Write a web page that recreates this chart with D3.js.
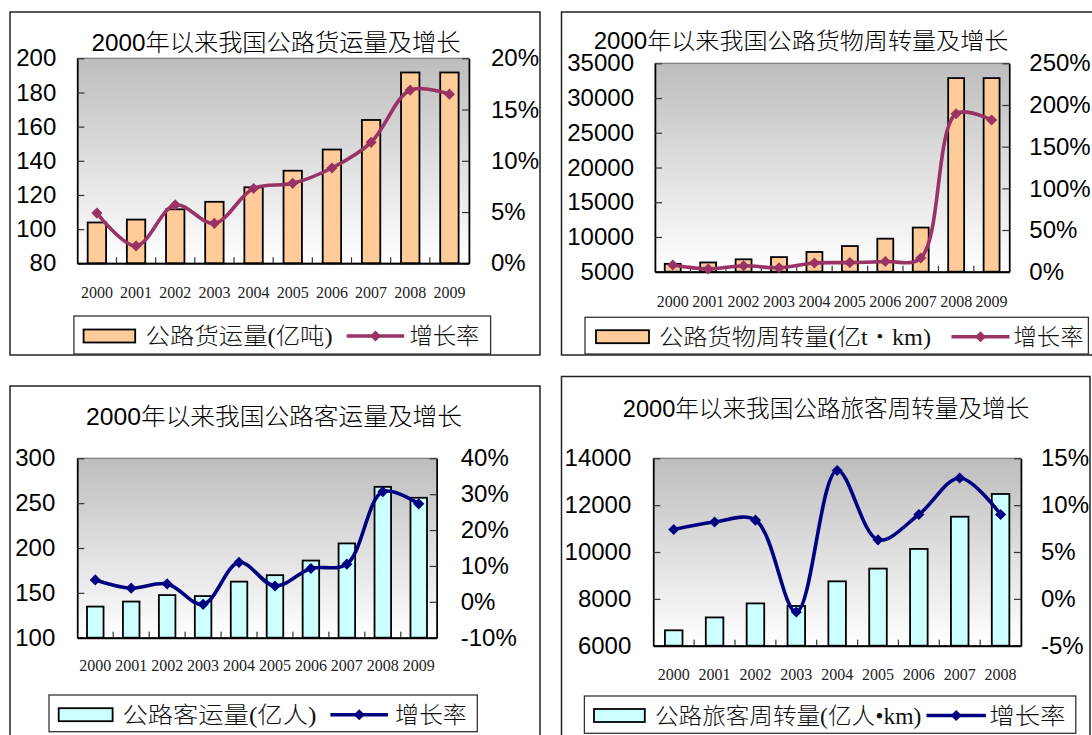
<!DOCTYPE html>
<html>
<head>
<meta charset="utf-8">
<script src="https://cdn.jsdelivr.net/npm/d3@7"></script>
<style>
  html, body { margin: 0; padding: 0; background: #ffffff; }
  svg { display: block; }
</style>
</head>
<body>
<svg id="chart" width="1092" height="735"></svg>
<script>
// ---- data ----
const years10 = ["2000", "2001", "2002", "2003", "2004", "2005", "2006", "2007", "2008", "2009"];
const years9 = ["2000", "2001", "2002", "2003", "2004", "2005", "2006", "2007", "2008"];

// 公路货运量 (亿吨) and growth (%)
const freightVolume = [103.9, 105.6, 111.6, 116.0, 124.5, 134.2, 146.6, 163.9, 191.7, 191.7];
const freightVolumeGrowth = [4.9, 1.7, 5.7, 3.9, 7.3, 7.8, 9.3, 11.8, 16.9, 16.5];

// 公路货物周转量 (亿t·km) and growth (%)
const freightTurnover = [6129, 6330, 6783, 7100, 7841, 8693, 9754, 11355, 32868, 32868];
const freightTurnoverGrowth = [8.0, 3.3, 7.2, 4.7, 10.4, 10.9, 12.2, 16.4, 189.5, 182.0];

// 公路客运量 (亿人) and growth (%)
const passengerVolume = [134.7, 140.3, 147.5, 146.4, 162.5, 169.7, 186.0, 205.1, 268.2, 256.0];
const passengerVolumeGrowth = [6.1, 3.8, 5.0, -0.7, 11.0, 4.4, 9.3, 10.5, 30.7, 27.3];

// 公路旅客周转量 (亿人·km) and growth (%)
const passengerTurnover = [6657, 7207, 7806, 7696, 8748, 9292, 10131, 11506, 12476];
const passengerTurnoverGrowth = [7.4, 8.2, 8.4, -1.4, 13.7, 6.3, 9.0, 12.9, 9.0];

// axis tick values
const ticksFreightVolume = [80, 100, 120, 140, 160, 180, 200];
const ticksFreightVolumeGrowth = [0, 5, 10, 15, 20];
const ticksFreightTurnover = [5000, 10000, 15000, 20000, 25000, 30000, 35000];
const ticksFreightTurnoverGrowth = [0, 50, 100, 150, 200, 250];
const ticksPassengerVolume = [100, 150, 200, 250, 300];
const ticksPassengerVolumeGrowth = [-10, 0, 10, 20, 30, 40];
const ticksPassengerTurnover = [6000, 8000, 10000, 12000, 14000];
const ticksPassengerTurnoverGrowth = [-5, 0, 5, 10, 15];

// texts
const titles = [
  "2000年以来我国公路货运量及增长",
  "2000年以来我国公路货物周转量及增长",
  "2000年以来我国公路客运量及增长",
  "2000年以来我国公路旅客周转量及增长"
];
const barLegendLabels = ["公路货运量(亿吨)", "公路货物周转量(亿t・km)", "公路客运量(亿人)", "公路旅客周转量(亿人•km)"];
const lineLegendLabel = "增长率";

// ---- colours ----
const ORANGE = "#FFCC99", CYAN = "#CCFFFF", PLUM = "#993366", NAVY = "#000080";

// ---- layout of the four panels ----
const panels = [
  {
    frame: [10, 12, 540, 355],
    title: { text: titles[0], cx: 276, cy: 42.7, w: 369, fs: 24 },
    plot: [77.3, 58.3, 469, 263.3],
    cats: years10, bars: freightVolume, growth: freightVolumeGrowth,
    leftTicks: ticksFreightVolume, rightTicks: ticksFreightVolumeGrowth,
    barFrac: 0.47, barColor: ORANGE, lineColor: PLUM,
    xLabelY: 293, leftGap: 21, rightGap: 22,
    legend: { box: [73.9, 316, 490.6, 354], cy: 336, sw: [83.6, 135.2], t1: [145.6, 187],
              line: [346.7, 404.2], t2: [409.4, 70], label: barLegendLabels[0] }
  },
  {
    frame: [561.5, 12, 1100, 355],
    title: { text: titles[1], cx: 801, cy: 40.5, w: 414.6, fs: 23 },
    plot: [655, 63.3, 1009.3, 271.7],
    cats: years10, bars: freightTurnover, growth: freightTurnoverGrowth,
    leftTicks: ticksFreightTurnover, rightTicks: ticksFreightTurnoverGrowth,
    barFrac: 0.45, barColor: ORANGE, lineColor: PLUM,
    xLabelY: 301.5, leftGap: 21, rightGap: 20,
    legend: { box: [585, 317.3, 1088.4, 354], cy: 336.7, sw: [596, 649], t1: [659, 272],
              line: [951.5, 1009.5], t2: [1013.5, 70], label: barLegendLabels[1] }
  },
  {
    frame: [10, 386, 540, 760],
    title: { text: titles[2], cx: 274, cy: 416.7, w: 376, fs: 24 },
    plot: [77.3, 458.3, 436.7, 637.7],
    cats: years10, bars: passengerVolume, growth: passengerVolumeGrowth,
    leftTicks: ticksPassengerVolume, rightTicks: ticksPassengerVolumeGrowth,
    barFrac: 0.46, barColor: CYAN, lineColor: NAVY,
    xLabelY: 666, leftGap: 22, rightGap: 24,
    legend: { box: [49, 695, 477.3, 731.7], cy: 714.7, sw: [58.7, 112.6], t1: [122.4, 194],
              line: [330.4, 388], t2: [395, 71.8], label: barLegendLabels[2] }
  },
  {
    frame: [561.5, 376.5, 1090, 760],
    title: { text: titles[3], cx: 826, cy: 408, w: 406.5, fs: 24 },
    plot: [653.3, 458.3, 1021, 645.7],
    cats: years9, bars: passengerTurnover, growth: passengerTurnoverGrowth,
    leftTicks: ticksPassengerTurnover, rightTicks: ticksPassengerTurnoverGrowth,
    barFrac: 0.43, barColor: CYAN, lineColor: NAVY,
    xLabelY: 675, leftGap: 22, rightGap: 20,
    legend: { box: [584.4, 696, 1075.8, 733.3], cy: 715.5, sw: [594, 644.8], t1: [655, 266.4],
              line: [926.5, 985.9], t2: [989.2, 76.4], label: barLegendLabels[3] }
  }
];

const svg = d3.select("#chart");
const defs = svg.append("defs");
const grad = defs.append("linearGradient")
  .attr("id", "plotFill").attr("x1", 0).attr("y1", 0).attr("x2", 0).attr("y2", 1);
grad.append("stop").attr("offset", "0%").attr("stop-color", "#bdbdbd");
grad.append("stop").attr("offset", "55%").attr("stop-color", "#e2e2e2");
grad.append("stop").attr("offset", "100%").attr("stop-color", "#ffffff");

const SANS = "'Liberation Sans', Arial, 'Noto Sans CJK SC', sans-serif";
const SERIF = "'Liberation Serif', 'Times New Roman', serif";
const CJK = "'Liberation Serif', 'Noto Sans CJK SC', serif";

const diamond = d3.symbol().type(d3.symbolSquare).size(62);

function drawPanel(p) {
  const g = svg.append("g");
  const [fx0, fy0, fx1, fy1] = p.frame;
  g.append("rect")
    .attr("x", fx0).attr("y", fy0).attr("width", fx1 - fx0).attr("height", fy1 - fy0)
    .attr("fill", "#fff").attr("stroke", "#222").attr("stroke-width", 1.5);

  // title
  g.append("text")
    .attr("x", p.title.cx).attr("y", p.title.cy + 0.36 * p.title.fs)
    .attr("text-anchor", "middle")
    .attr("font-family", SANS).attr("font-size", p.title.fs).attr("font-weight", 300)
    .attr("textLength", p.title.w).attr("lengthAdjust", "spacingAndGlyphs")
    .attr("fill", "#000")
    .text(p.title.text);

  const [pl, pt, pr, pb] = p.plot;
  const x = d3.scaleBand().domain(p.cats).range([pl, pr]).padding(0);
  const bw = x.bandwidth();
  const yL = d3.scaleLinear().domain(d3.extent(p.leftTicks)).range([pb, pt]);
  const yR = d3.scaleLinear().domain(d3.extent(p.rightTicks)).range([pb, pt]);

  // plot area with grey gradient
  g.append("rect")
    .attr("x", pl).attr("y", pt).attr("width", pr - pl).attr("height", pb - pt)
    .attr("fill", "url(#plotFill)").attr("stroke", "#7a7a7a").attr("stroke-width", 1.2);

  // bars
  const barW = bw * p.barFrac;
  g.append("g").selectAll("rect")
    .data(p.cats.map((c, i) => ({ c, v: p.bars[i] })))
    .join("rect")
    .attr("x", d => x(d.c) + (bw - barW) / 2)
    .attr("y", d => yL(d.v))
    .attr("width", barW)
    .attr("height", d => yL.range()[0] - yL(d.v))
    .attr("fill", p.barColor)
    .attr("stroke", "#000").attr("stroke-width", 1.8);

  // left axis: ticks pointing inward
  const axL = g.append("g").attr("transform", `translate(${pl},0)`)
    .call(d3.axisLeft(yL).tickValues(p.leftTicks).tickSizeInner(-7).tickSizeOuter(0)
      .tickPadding(p.leftGap).tickFormat(d3.format("d")));
  // right axis
  const axR = g.append("g").attr("transform", `translate(${pr},0)`)
    .call(d3.axisRight(yR).tickValues(p.rightTicks).tickSizeInner(-7).tickSizeOuter(0)
      .tickPadding(p.rightGap).tickFormat(d => d + "%"));
  [axL, axR].forEach(ax => {
    ax.select(".domain").attr("stroke", "#000").attr("stroke-width", 1.6);
    ax.selectAll(".tick line").attr("stroke", "#333").attr("stroke-width", 1.2);
    ax.selectAll(".tick text")
      .attr("font-family", SANS).attr("font-size", 24).attr("fill", "#000");
  });
  axR.selectAll(".tick text").attr("text-anchor", "start");

  // bottom axis: labels at category centres, ticks at category boundaries
  const axB = g.append("g").attr("transform", `translate(0,${pb})`)
    .call(d3.axisBottom(x).tickSize(0).tickPadding(p.xLabelY - pb - 5.5));
  axB.select(".domain").attr("stroke", "#000").attr("stroke-width", 2);
  axB.selectAll(".tick text")
    .attr("font-family", SERIF).attr("font-size", 16).attr("fill", "#222")
    .attr("dy", 0).attr("y", p.xLabelY - pb + 5.5);
  g.append("g").selectAll("line")
    .data(p.cats.slice(1))
    .join("line")
    .attr("x1", d => x(d)).attr("x2", d => x(d))
    .attr("y1", pb).attr("y2", pb - 6)
    .attr("stroke", "#333").attr("stroke-width", 1.2);

  // growth line (smoothed) with diamond markers
  const pts = p.cats.map((c, i) => ({ c, v: p.growth[i] }));
  const line = d3.line()
    .x(d => x(d.c) + bw / 2)
    .y(d => yR(d.v))
    .curve(d3.curveCatmullRom.alpha(0.5));
  g.append("path").datum(pts)
    .attr("d", line)
    .attr("fill", "none").attr("stroke", p.lineColor)
    .attr("stroke-width", 3.6).attr("stroke-linejoin", "round");
  g.append("g").selectAll("path")
    .data(pts)
    .join("path")
    .attr("d", diamond)
    .attr("transform", d => `translate(${x(d.c) + bw / 2},${yR(d.v)}) rotate(45)`)
    .attr("fill", p.lineColor);

  // legend
  const L = p.legend;
  const [bx0, by0, bx1, by1] = L.box;
  g.append("rect")
    .attr("x", bx0).attr("y", by0).attr("width", bx1 - bx0).attr("height", by1 - by0)
    .attr("fill", "#fff").attr("stroke", "#333").attr("stroke-width", 1.3);
  g.append("rect")
    .attr("x", L.sw[0]).attr("y", L.cy - 6.5).attr("width", L.sw[1] - L.sw[0]).attr("height", 13)
    .attr("fill", p.barColor).attr("stroke", "#000").attr("stroke-width", 1.8);
  g.append("text")
    .attr("x", L.t1[0]).attr("y", L.cy + 8.3)
    .attr("font-family", CJK).attr("font-size", 23).attr("font-weight", 300)
    .attr("textLength", L.t1[1]).attr("lengthAdjust", "spacingAndGlyphs")
    .attr("fill", "#111")
    .text(L.label);
  g.append("line")
    .attr("x1", L.line[0]).attr("x2", L.line[1]).attr("y1", L.cy).attr("y2", L.cy)
    .attr("stroke", p.lineColor).attr("stroke-width", 3.6);
  g.append("path")
    .attr("d", diamond)
    .attr("transform", `translate(${(L.line[0] + L.line[1]) / 2},${L.cy}) rotate(45)`)
    .attr("fill", p.lineColor);
  g.append("text")
    .attr("x", L.t2[0]).attr("y", L.cy + 8.3)
    .attr("font-family", CJK).attr("font-size", 23).attr("font-weight", 300)
    .attr("textLength", L.t2[1]).attr("lengthAdjust", "spacingAndGlyphs")
    .attr("fill", "#111")
    .text(lineLegendLabel);
}

panels.forEach(drawPanel);
</script>
</body>
</html>
